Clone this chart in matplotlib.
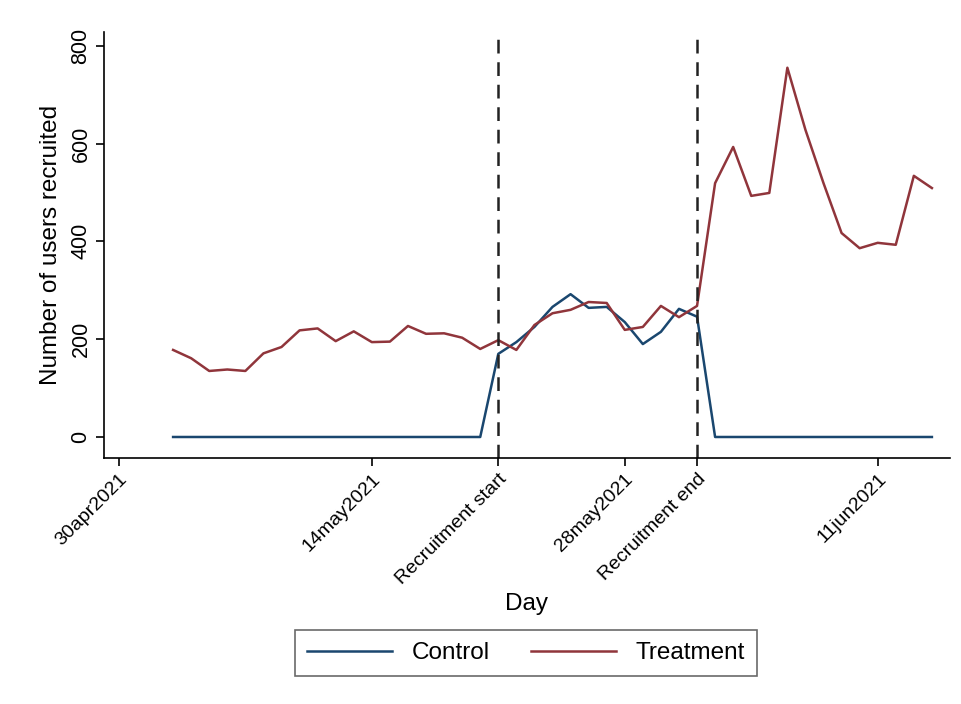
import datetime as dt
import matplotlib
matplotlib.use("Agg")
import matplotlib.pyplot as plt
import matplotlib.dates as mdates

plt.rcParams["font.family"] = ["Liberation Sans", "DejaVu Sans"]

# Daily recruitment counts, 03may2021 .. 14jun2021
start_day = dt.date(2021, 5, 3)
treatment = [178, 161, 135, 138, 135, 171, 184, 218, 222, 196, 216, 194, 195,
             227, 211, 212, 203, 180, 198, 178, 229, 253, 260, 276, 274, 219,
             225, 268, 245, 268, 519, 593, 493, 499, 755, 628, 519, 417, 386,
             397, 393, 534, 509]
control = [0] * 18 + [170, 194, 225, 266, 292, 264, 266, 235, 190, 215, 262,
                      246] + [0] * 13
days = [start_day + dt.timedelta(days=i) for i in range(len(treatment))]

recruit_start = dt.date(2021, 5, 21)
recruit_end = dt.date(2021, 6, 1)

tick_dates = [dt.date(2021, 4, 30), dt.date(2021, 5, 14), recruit_start,
              dt.date(2021, 5, 28), recruit_end, dt.date(2021, 6, 11)]
tick_labels = ["30apr2021", "14may2021", "Recruitment start", "28may2021",
               "Recruitment end", "11jun2021"]
y_ticks = [0, 200, 400, 600, 800]

navy = "#1a476f"
maroon = "#90353b"

fig = plt.figure(figsize=(9.62, 7.04), dpi=100)
ax = fig.add_axes([0.108, 0.3494, 0.8795, 0.6051])

ax.plot(days, control, color=navy, lw=1.8, label="Control")
ax.plot(days, treatment, color=maroon, lw=1.8, label="Treatment")

for d in (recruit_start, recruit_end):
    ax.axvline(d, color="#222222", lw=1.8, ls=(0, (5.5, 3.5)))

origin = mdates.date2num(dt.date(2021, 4, 30))
ax.set_xlim(origin - 0.83, origin + 46)
ax.set_ylim(-43, 828)

ax.set_xticks([mdates.date2num(d) for d in tick_dates])
ax.set_xticklabels(tick_labels, rotation=45, ha="right", va="top",
                   rotation_mode="anchor", fontsize=14)
ax.set_yticks(y_ticks)
ax.set_yticklabels([str(v) for v in y_ticks], rotation=90, va="center",
                   fontsize=15.5)

for side in ("top", "right"):
    ax.spines[side].set_visible(False)
for side in ("left", "bottom"):
    ax.spines[side].set_linewidth(1.2)
    ax.spines[side].set_color("black")
ax.tick_params(length=6, width=1.2, color="black", pad=3)

ax.set_xlabel("Day", fontsize=17.5, labelpad=4)
ax.set_ylabel("Number of users recruited", fontsize=17.5, labelpad=6)

leg = fig.legend(loc="center", bbox_to_anchor=(526 / 962, 1 - 653 / 704),
                 ncol=2, frameon=True, fancybox=False, fontsize=17.5,
                 handlelength=3.5, handletextpad=0.8, columnspacing=1.7,
                 borderpad=0.5, edgecolor="#444444")
leg.get_frame().set_linewidth(1.2)

fig.savefig("out.png", dpi=100, facecolor="white")
